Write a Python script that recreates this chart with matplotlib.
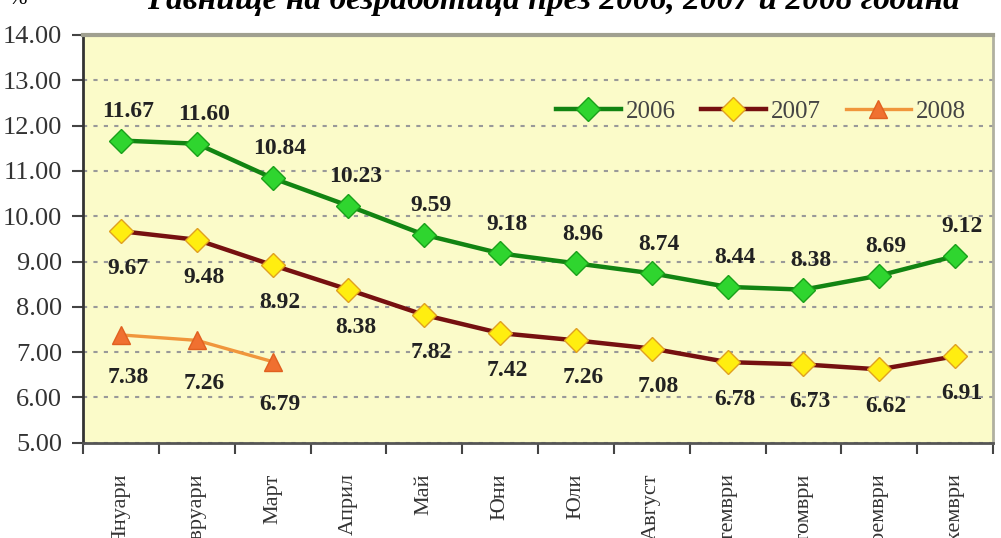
import matplotlib.pyplot as plt
import numpy as np

months = ["Януари", "Февруари", "Март", "Април", "Май", "Юни",
          "Юли", "Август", "Септември", "Октомври", "Ноември", "Декември"]
y2006 = [11.67, 11.60, 10.84, 10.23, 9.59, 9.18, 8.96, 8.74, 8.44, 8.38, 8.69, 9.12]
y2007 = [9.67, 9.48, 8.92, 8.38, 7.82, 7.42, 7.26, 7.08, 6.78, 6.73, 6.62, 6.91]
y2008 = [7.38, 7.26, 6.79]
yticks = [5, 6, 7, 8, 9, 10, 11, 12, 13, 14]

plt.rcParams['font.family'] = ['Liberation Serif', 'DejaVu Serif']

fig = plt.figure(figsize=(10.01, 5.38), dpi=100)
ax = fig.add_axes([0.083, 0.177, 0.909, 0.758])
ax.set_facecolor("#fbfbc9")

x = np.arange(len(months))
ax.plot(x, y2006, color="#128412", lw=3.2, marker="D", ms=12,
        mfc="#2fd52f", mec="#1aa01a", label="2006", zorder=3)
ax.plot(x, y2007, color="#761010", lw=3.2, marker="D", ms=12,
        mfc="#ffee10", mec="#e0a020", label="2007", zorder=3)
ax.plot(x[:len(y2008)], y2008, color="#f0963c", lw=2.4, marker="^", ms=13,
        mfc="#f07030", mec="#e06020", label="2008", zorder=3)

# data labels: 2006 above, 2007 and 2008 below
lbl = dict(textcoords="offset points", ha="center", va="center",
           fontsize=17, fontweight="bold", color="#222222")
for i, v in enumerate(y2006):
    ax.annotate("%.2f" % v, (x[i], v), xytext=(5, 21), **lbl)
for i, v in enumerate(y2007):
    ax.annotate("%.2f" % v, (x[i], v), xytext=(5, -27), **lbl)
for i, v in enumerate(y2008):
    ax.annotate("%.2f" % v, (x[i], v), xytext=(5, -31), **lbl)

ax.set_xlim(-0.5, len(months) - 0.5)
ax.set_ylim(5, 14)
ax.set_yticks(yticks)
ax.set_yticklabels(["%.2f" % t for t in yticks], fontsize=19, color="#333333")
ax.set_xticks(x)
ax.set_xticklabels(months, rotation=90, fontsize=16, color="#333333", va="top")
ax.set_xticks(np.arange(len(months) + 1) - 0.5, minor=True)
ax.tick_params(axis="x", which="major", length=0, pad=22)
ax.tick_params(axis="x", which="minor", length=8, width=1.5, color="#444444")
ax.tick_params(axis="y", length=8, width=1.5, color="#444444", pad=7)

ax.grid(axis="y", linestyle=(0, (2, 3)), color="#999999", lw=1.5)
ax.spines["left"].set_color("#333333")
ax.spines["left"].set_linewidth(2)
ax.spines["bottom"].set_color("#555555")
ax.spines["bottom"].set_linewidth(2)
ax.spines["top"].set_color("#a0a090")
ax.spines["top"].set_linewidth(3)
ax.spines["right"].set_color("#b0b0a0")
ax.spines["right"].set_linewidth(2)

ax.legend(loc="upper right", bbox_to_anchor=(0.995, 0.895), ncol=3, frameon=False,
          fontsize=18, handlelength=2.6, columnspacing=1.0, handletextpad=0.2,
          labelcolor="#444444")

fig.text(0.553, 1.0, "Равнище на безработица през 2006, 2007 и 2008 година",
         ha="center", va="center", fontsize=24, fontweight="bold", style="italic")
fig.text(0.008, 1.0, "%", ha="left", va="center", fontsize=16)

fig.savefig("out.png", dpi=100)
